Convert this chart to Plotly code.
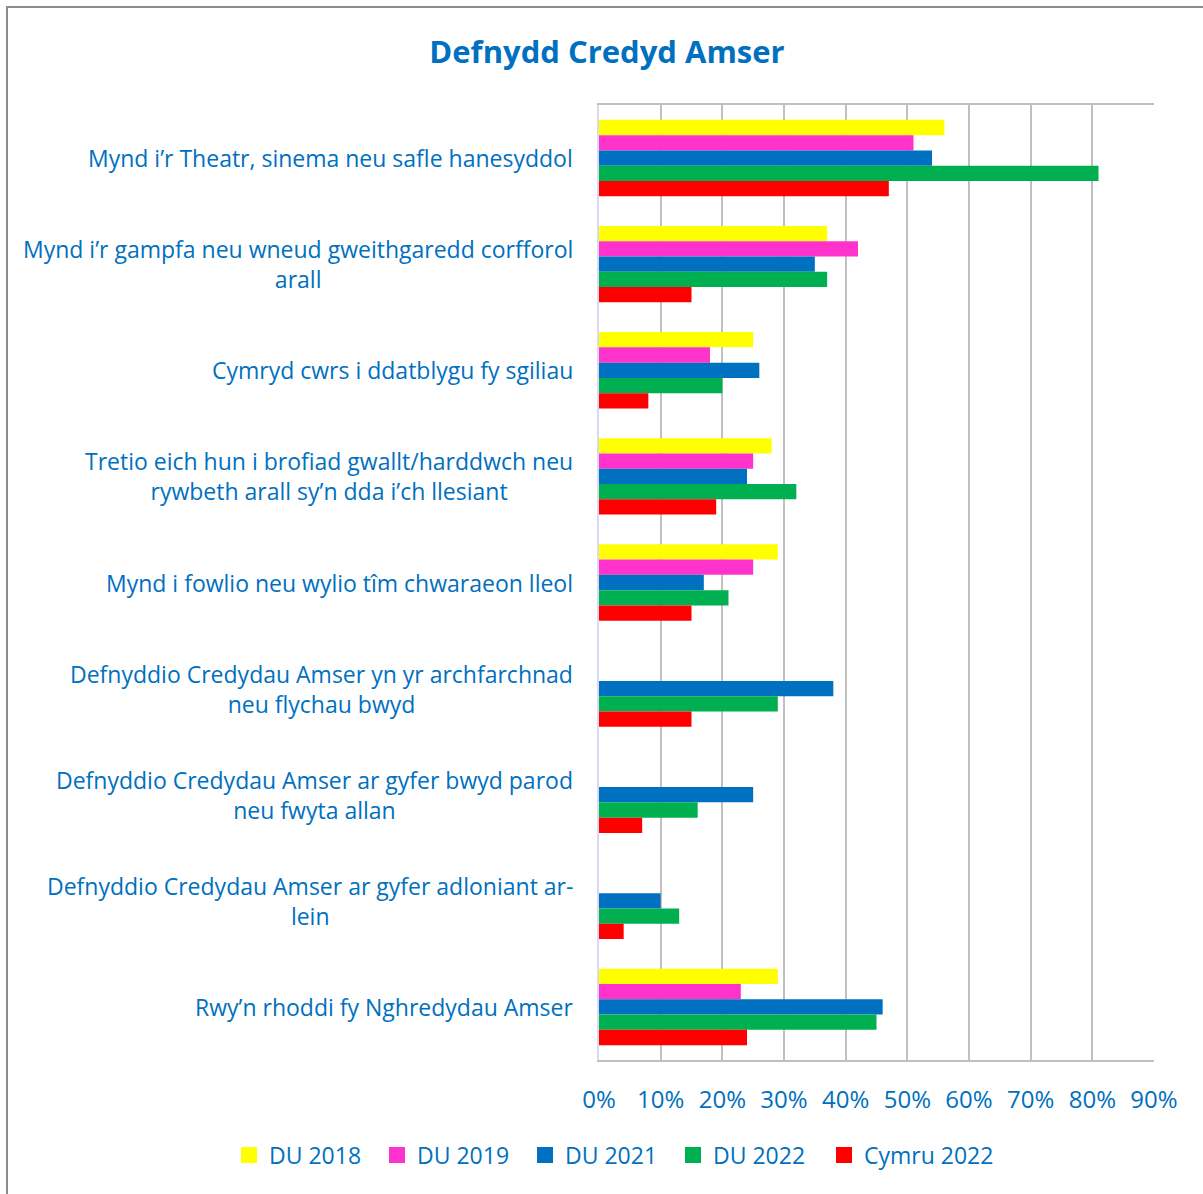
import plotly.graph_objects as go

categories = [
    "Mynd i’r Theatr, sinema neu safle hanesyddol",
    "Mynd i’r gampfa neu wneud gweithgaredd corfforol<br>arall",
    "Cymryd cwrs i ddatblygu fy sgiliau",
    "Tretio eich hun i brofiad gwallt/harddwch neu<br>rywbeth arall sy’n dda i’ch llesiant",
    "Mynd i fowlio neu wylio tîm chwaraeon lleol",
    "Defnyddio Credydau Amser yn yr archfarchnad<br>neu flychau bwyd",
    "Defnyddio Credydau Amser ar gyfer bwyd parod<br>neu fwyta allan",
    "Defnyddio Credydau Amser ar gyfer adloniant ar-<br>lein",
    "Rwy’n rhoddi fy Nghredydau Amser",
]

series_names = ["DU 2018", "DU 2019", "DU 2021", "DU 2022", "Cymru 2022"]
du_2018 = [56, 37, 25, 28, 29, None, None, None, 29]
du_2019 = [51, 42, 18, 25, 25, None, None, None, 23]
du_2021 = [54, 35, 26, 24, 17, 38, 25, 10, 46]
du_2022 = [81, 37, 20, 32, 21, 29, 16, 13, 45]
cymru_2022 = [47, 15, 8, 19, 15, 15, 7, 4, 24]
series_values = [du_2018, du_2019, du_2021, du_2022, cymru_2022]
colors = ["#FFFF00", "#FF33CC", "#0070C0", "#00B050", "#FF0000"]

x_ticks = [0, 10, 20, 30, 40, 50, 60, 70, 80, 90]
x_tick_labels = ["0%", "10%", "20%", "30%", "40%", "50%", "60%", "70%", "80%", "90%"]

BLUE = "#0070C0"
FONT = "Open Sans"

cat_ids = [f"c{i}" for i in range(len(categories))]

fig = go.Figure()
for name, vals, col in zip(series_names, series_values, colors):
    fig.add_trace(go.Bar(
        y=cat_ids, x=vals, name=name, orientation="h",
        marker=dict(color=col, line=dict(width=0)),
        showlegend=False,
    ))

# legend entries (square markers)
for i, (name, col) in enumerate(zip(series_names, colors)):
    fig.add_trace(go.Scatter(
        x=[None], y=[None], mode="markers", name=name,
        marker=dict(symbol="square", size=17, color=col),
        legend="legend2" if i == len(series_names) - 1 else "legend",
        showlegend=True, hoverinfo="skip",
    ))

for cid, label in zip(cat_ids, categories):
    fig.add_annotation(
        x=0, xref="paper", y=cid, yref="y", text=label,
        xanchor="right", yanchor="middle", align="center", xshift=-24,
        showarrow=False, font=dict(family=FONT, size=23, color=BLUE),
    )

# outer border
fig.add_shape(type="rect", xref="paper", yref="paper",
              x0=(7 - 599) / 555, x1=(1215 - 599) / 555,
              y0=-(1205 - 1060) / 955, y1=1 + (105 - 7) / 955,
              line=dict(color="#8C8C8C", width=2), fillcolor="rgba(0,0,0,0)",
              layer="below")

legend_common = dict(orientation="h", xref="paper", yref="paper",
                     xanchor="left", y=-(1155 - 1060) / 955, yanchor="middle",
                     font=dict(family=FONT, size=23, color=BLUE),
                     traceorder="normal", itemwidth=30, itemsizing="trace",
                     bgcolor="rgba(0,0,0,0)")

fig.update_layout(
    width=1203, height=1194,
    margin=dict(l=599, r=49, t=105, b=134),
    paper_bgcolor="white", plot_bgcolor="white",
    barmode="group", bargap=0.28, bargroupgap=0,
    title=dict(text="<b>Defnydd Credyd Amser</b>", x=607 / 1203, xanchor="center",
               xref="container", y=1 - 52 / 1194, yanchor="middle", yref="container",
               font=dict(family=FONT, size=31, color=BLUE)),
    xaxis=dict(range=[0, 90], tickvals=x_ticks, ticktext=x_tick_labels,
               showgrid=True, gridcolor="#C0C0C0", gridwidth=1.5,
               showline=True, linecolor="#C0C0C0", linewidth=1.5, mirror=True,
               zeroline=False, ticks="", ticklabelstandoff=17,
               tickfont=dict(family=FONT, size=24, color=BLUE)),
    yaxis=dict(autorange="reversed", showticklabels=False, showgrid=False,
               showline=True, linecolor="#D9D9F3", linewidth=1.5, zeroline=False),
    legend=dict(**legend_common, x=(229 - 599) / 555,
                entrywidth=103, entrywidthmode="pixels"),
    legend2=dict(**legend_common, x=(824 - 599) / 555),
    showlegend=True,
)

fig.write_html("out.html", config={"displayModeBar": False})

with open("out.html", "r", encoding="utf-8") as f:
    html = f.read()
html = html.replace("<body>", '<body style="margin:0;overflow:hidden">', 1)
with open("out.html", "w", encoding="utf-8") as f:
    f.write(html)
